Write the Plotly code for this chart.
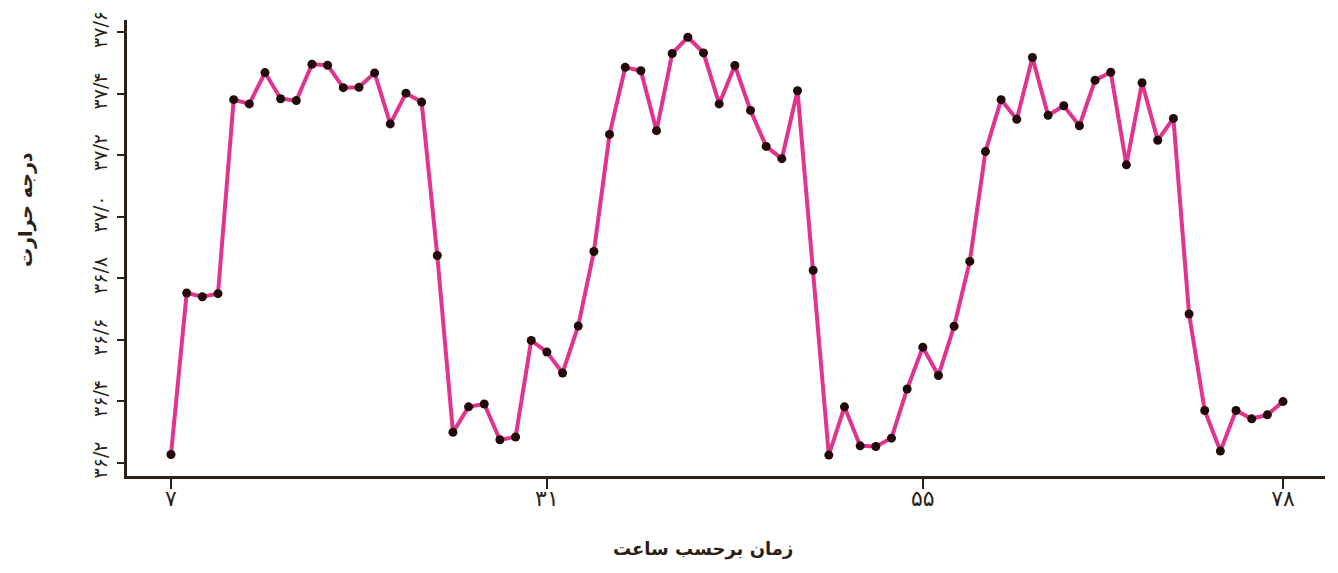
import plotly.graph_objects as go

hours = list(range(7, 79))
temperature = [
    36.227, 36.752, 36.740, 36.750, 37.381, 37.367, 37.469, 37.384, 37.378, 37.496,
    37.493, 37.420, 37.421, 37.468, 37.302, 37.402, 37.373, 36.874, 36.299, 36.382,
    36.391, 36.275, 36.284, 36.598, 36.560, 36.492, 36.645, 36.887, 37.268, 37.486,
    37.475, 37.280, 37.531, 37.584, 37.533, 37.367, 37.492, 37.346, 37.229, 37.189,
    37.410, 36.826, 36.225, 36.382, 36.255, 36.253, 36.280, 36.440, 36.576, 36.484,
    36.644, 36.855, 37.212, 37.381, 37.317, 37.518, 37.330, 37.361, 37.296, 37.444,
    37.470, 37.169, 37.436, 37.249, 37.320, 36.684, 36.370, 36.238, 36.370, 36.343,
    36.356, 36.399,
]

x_tick_vals = [7, 31, 55, 78]
x_tick_text = ["۷", "۳۱", "۵۵", "۷۸"]
y_tick_vals = [36.2, 36.4, 36.6, 36.8, 37.0, 37.2, 37.4, 37.6]
y_tick_text = ["۳۶/۲", "۳۶/۴", "۳۶/۶", "۳۶/۸", "۳۷/۰", "۳۷/۲", "۳۷/۴", "۳۷/۶"]
x_title = "زمان برحسب ساعت"
y_title = "درجه حرارت"

axis_color = "#2b1f17"
font_family = "DejaVu Sans"

# page body has an 8px margin; compensate so the plot lands where the reference has it
OFF = 8
L, R, T, B = 127 - OFF, 1338 - (1325 - OFF), 20 - OFF, 573 - (476 - OFF)
PW, PH = 1338 - L - R, 573 - T - B


def px_to_paper(px, py):
    return (px - OFF - L) / PW, (573 - B - (py - OFF)) / PH


yt_x, yt_y = px_to_paper(26, 210)
xt_x, xt_y = px_to_paper(703, 549)

fig = go.Figure()
fig.add_trace(go.Scatter(
    x=hours, y=temperature, mode="lines+markers",
    line=dict(color="#e0348f", width=4),
    marker=dict(color="#230a08", size=9),
    showlegend=False,
))

fig.update_layout(
    width=1338, height=573,
    margin=dict(l=L, r=R, t=T, b=B, autoexpand=False),
    paper_bgcolor="white", plot_bgcolor="white",
    font=dict(family=font_family, color=axis_color),
    xaxis=dict(
        range=[4.19, 80.68], tickvals=x_tick_vals, ticktext=x_tick_text,
        showgrid=False, zeroline=False, showline=True, linecolor=axis_color, linewidth=3,
        ticks="outside", ticklen=10, tickwidth=2, tickcolor=axis_color,
        tickfont=dict(size=22, family=font_family, color=axis_color),
        ticklabelstandoff=-9,
    ),
    yaxis=dict(
        range=[36.157, 37.64], tickvals=y_tick_vals, ticktext=y_tick_text,
        showgrid=False, zeroline=False, showline=True, linecolor=axis_color, linewidth=3,
        ticks="outside", ticklen=7, tickwidth=2, tickcolor=axis_color, tickangle=-90,
        tickfont=dict(size=19, family=font_family, color=axis_color),
        ticklabelstandoff=2,
    ),
    annotations=[
        dict(text="<b>" + y_title + "</b>", textangle=-90, xref="paper", yref="paper",
             x=yt_x, y=yt_y, showarrow=False,
             xanchor="center", yanchor="middle",
             font=dict(size=19, family=font_family, color=axis_color)),
        dict(text="<b>" + x_title + "</b>", xref="paper", yref="paper",
             x=xt_x, y=xt_y, showarrow=False,
             xanchor="center", yanchor="middle",
             font=dict(size=18, family=font_family, color=axis_color)),
    ],
)

fig.write_html("out.html")
